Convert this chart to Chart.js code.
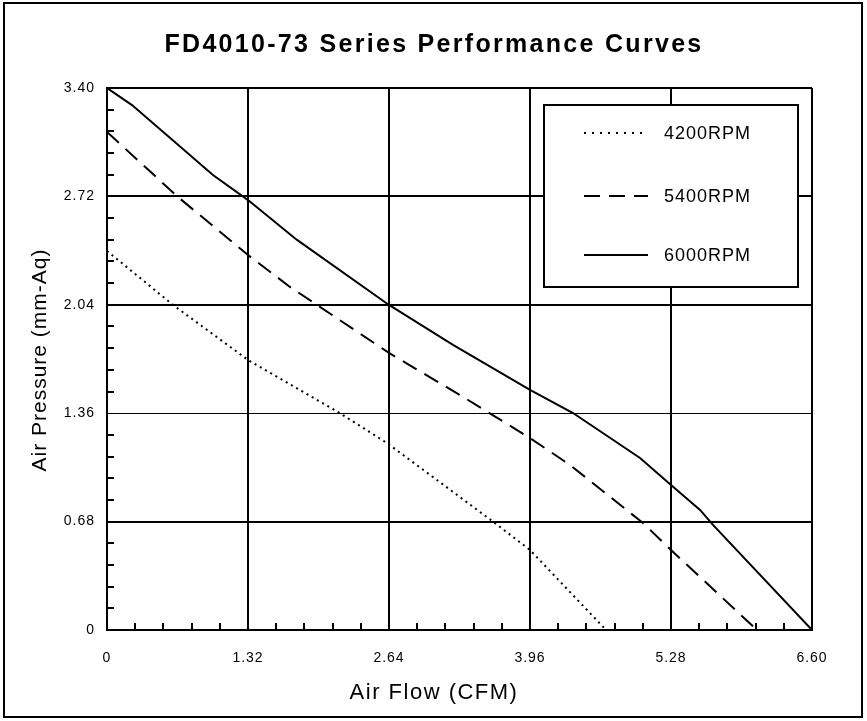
<!DOCTYPE html>
<html>
<head>
<meta charset="utf-8">
<script src="https://cdn.jsdelivr.net/npm/chart.js@4/dist/chart.umd.min.js"></script>
<style>
  html, body { margin: 0; padding: 0; background: #fff; }
  #wrap { width: 867px; height: 721px; position: relative; }
</style>
</head>
<body>
<div id="wrap"><canvas id="chart" width="867" height="721"></canvas></div>
<script>
// datos (CFM, mm-Aq)
const titulo = "FD4010-73 Series Performance Curves";
const xTicks = [0, 1.32, 2.64, 3.96, 5.28, 6.60];
const yTicks = [0, 0.68, 1.36, 2.04, 2.72, 3.40];

const rpm4200x = [0, 0.618, 1.32, 2.181, 2.621, 3.614, 3.96, 4.672];
const rpm4200y = [2.378, 2.039, 1.694, 1.36, 1.173, 0.68, 0.502, 0];

const rpm5400x = [0, 0.665, 1.32, 1.713, 2.64, 3.305, 3.96, 4.335, 5.018, 5.28, 6.085];
const rpm5400y = [3.124, 2.716, 2.352, 2.152, 1.738, 1.474, 1.204, 1.035, 0.671, 0.502, 0];

const rpm6000x = [0, 0.234, 0.992, 1.32, 1.779, 2.64, 3.239, 3.96, 4.363, 4.990, 5.28, 5.552, 5.673, 6.60];
const rpm6000y = [3.40, 3.293, 2.854, 2.697, 2.447, 2.039, 1.788, 1.506, 1.361, 1.079, 0.910, 0.753, 0.659, 0];

function pares(xs, ys) {
    return xs.map((x, i) => ({ x: x, y: ys[i] }));
}

const FUENTE = "'Liberation Sans', Arial, sans-serif";

// dibuja marco, titulo, titulos de ejes, marcas menores y leyenda
const extras = {
    id: "extras",
    beforeDraw(chart) {
        const ctx = chart.ctx;
        ctx.letterSpacing = "1px";
        ctx.save();
        ctx.fillStyle = "#fff";
        ctx.fillRect(0, 0, chart.width, chart.height);
        ctx.restore();
    },
    afterDraw(chart) {
        const ctx = chart.ctx;
        const xs = chart.scales.x, ys = chart.scales.y;
        const a = chart.chartArea;
        ctx.save();

        // marco exterior
        ctx.strokeStyle = "#000";
        ctx.lineWidth = 2;
        ctx.strokeRect(4, 3, 858, 714);

        // marcas menores
        ctx.lineWidth = 2;
        ctx.beginPath();
        for (let i = 1; i < 25; i++) {
            if (i % 5 === 0) continue;
            const py = Math.round(ys.getPixelForValue(i * 0.136));
            ctx.moveTo(a.left, py); ctx.lineTo(a.left + 7, py);
        }
        for (let i = 1; i < 25; i++) {
            if (i % 5 === 0) continue;
            const px = Math.round(xs.getPixelForValue(i * 0.264));
            ctx.moveTo(px, a.bottom); ctx.lineTo(px, a.bottom - 7);
        }
        ctx.stroke();

        // titulo
        ctx.fillStyle = "#000";
        ctx.textAlign = "center";
        ctx.textBaseline = "middle";
        ctx.letterSpacing = "2.3px";
        ctx.font = "bold 25px " + FUENTE;
        ctx.fillText(titulo, 434, 45);

        // titulos de ejes
        ctx.letterSpacing = "1.5px";
        ctx.font = "22px " + FUENTE;
        ctx.fillText("Air Flow (CFM)", 434, 693);
        ctx.letterSpacing = "1px";
        ctx.font = "21px " + FUENTE;
        ctx.save();
        ctx.translate(40, 360);
        ctx.rotate(-Math.PI / 2);
        ctx.fillText("Air Pressure (mm-Aq)", 0, 0);
        ctx.restore();

        // leyenda
        const lx = 544, ly = 105, lw = 254, lh = 182;
        ctx.fillStyle = "#fff";
        ctx.fillRect(lx, ly, lw, lh);
        ctx.strokeStyle = "#000";
        ctx.lineWidth = 2;
        ctx.strokeRect(lx, ly, lw, lh);
        const filas = [133, 196, 255];
        chart.data.datasets.forEach((ds, i) => {
            ctx.beginPath();
            ctx.setLineDash(i === 0 ? [2, 6] : (ds.borderDash || []));
            ctx.lineWidth = ds.borderWidth;
            ctx.moveTo(584, filas[i]);
            ctx.lineTo(648, filas[i]);
            ctx.stroke();
            ctx.setLineDash([]);
            ctx.fillStyle = "#000";
            ctx.textAlign = "left";
            ctx.letterSpacing = "1px";
            ctx.font = "18px " + FUENTE;
            ctx.fillText(ds.label, 664, filas[i] + 1);
        });
        ctx.restore();
    }
};

new Chart(document.getElementById("chart"), {
    type: "scatter",
    data: {
        datasets: [
            {
                label: "4200RPM",
                data: pares(rpm4200x, rpm4200y),
                showLine: true,
                borderColor: "#000",
                borderWidth: 2,
                borderDash: [2, 4],
                pointRadius: 0,
                tension: 0
            },
            {
                label: "5400RPM",
                data: pares(rpm5400x, rpm5400y),
                showLine: true,
                borderColor: "#000",
                borderWidth: 2,
                borderDash: [16, 9],
                pointRadius: 0,
                tension: 0
            },
            {
                label: "6000RPM",
                data: pares(rpm6000x, rpm6000y),
                showLine: true,
                borderColor: "#000",
                borderWidth: 2,
                pointRadius: 0,
                tension: 0
            }
        ]
    },
    options: {
        responsive: false,
        animation: false,
        layout: { padding: { left: 0, top: 88, right: 55, bottom: 0 } },
        plugins: {
            legend: { display: false },
            title: { display: false },
            tooltip: { enabled: false }
        },
        scales: {
            x: {
                type: "linear",
                min: 0, max: 6.6,
                afterFit: s => { s.height = 91; },
                afterBuildTicks: s => { s.ticks = xTicks.map(v => ({ value: v })); },
                grid: { color: "#000", lineWidth: 2, drawTicks: false },
                border: { color: "#000", width: 2 },
                ticks: {
                    color: "#000",
                    padding: 20,
                    font: { family: FUENTE, size: 14 },
                    callback: v => v === 0 ? "0" : v.toFixed(2)
                }
            },
            y: {
                type: "linear",
                min: 0, max: 3.4,
                afterFit: s => { s.width = 107; },
                afterBuildTicks: s => { s.ticks = yTicks.map(v => ({ value: v })); },
                grid: {
                    color: "#000",
                    drawTicks: false,
                    lineWidth: c => (c.tick && Math.abs(c.tick.value - 1.36) < 0.01) ? 1 : 2
                },
                border: { color: "#000", width: 2 },
                ticks: {
                    color: "#000",
                    padding: 12,
                    font: { family: FUENTE, size: 14 },
                    callback: v => v === 0 ? "0" : v.toFixed(2)
                }
            }
        }
    },
    plugins: [extras]
});
</script>
</body>
</html>
